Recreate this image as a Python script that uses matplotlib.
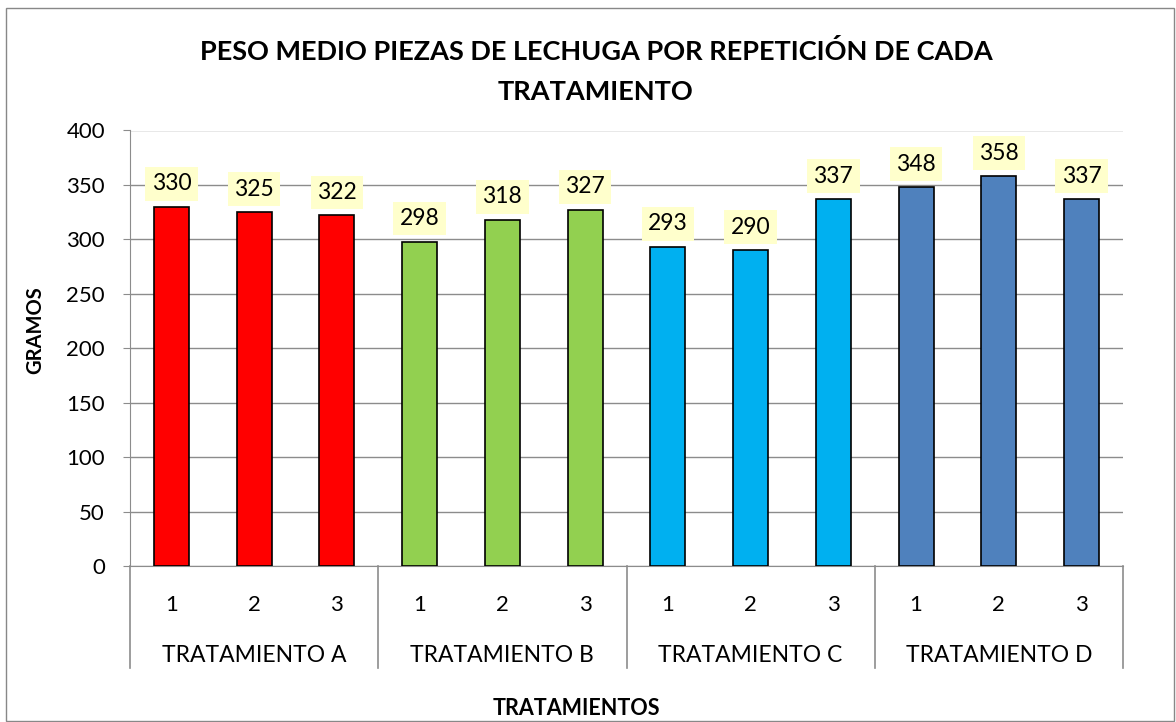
import matplotlib
matplotlib.use("Agg")
import matplotlib.pyplot as plt
from matplotlib.patches import Rectangle

plt.rcParams['font.family'] = ['Lato', 'DejaVu Sans']

groups = ["TRATAMIENTO A", "TRATAMIENTO B", "TRATAMIENTO C", "TRATAMIENTO D"]
reps = ["1", "2", "3"]
values_a = [330, 325, 322]
values_b = [298, 318, 327]
values_c = [293, 290, 337]
values_d = [348, 358, 337]
colors = ["#FF0000", "#92D050", "#00B0F0", "#4F81BD"]

series = [values_a, values_b, values_c, values_d]

W, H = 1176, 722
fig = plt.figure(figsize=(W / 100, H / 100), dpi=100)
fig.patches.append(Rectangle((6 / W, 0.6 / H), 1168 / W, 713 / H, transform=fig.transFigure,
                             fill=False, edgecolor="#888888", linewidth=1.0))
ax = fig.add_axes([130 / W, (H - 566) / H, 993 / W, 435.5 / H])

x = 0
positions = []
for gi, vals in enumerate(series):
    for ri, v in enumerate(vals):
        ax.bar(x, v, width=0.42, color=colors[gi], edgecolor="black", linewidth=1.2, zorder=3)
        ax.annotate(str(v), (x, v), xytext=(0, 9), textcoords="offset points",
                    ha="center", va="bottom", fontsize=16.5, zorder=4,
                    bbox=dict(boxstyle="square,pad=0.28", facecolor="#FFFFCC", edgecolor="none"))
        positions.append(x)
        x += 1

ax.set_xlim(-0.5, len(positions) - 0.5)
ax.set_ylim(0, 400)
ax.set_yticks(range(0, 401, 50))
ax.yaxis.grid(True, color="#8C8C8C", linewidth=1.0, zorder=0)
ax.set_axisbelow(True)
for s in ["top", "right"]:
    ax.spines[s].set_visible(False)
ax.spines["left"].set_color("#8C8C8C")
ax.spines["bottom"].set_color("#8C8C8C")
ax.tick_params(axis="y", length=5, color="#8C8C8C", labelsize=16, pad=13, direction="out")
ax.tick_params(axis="x", length=0, labelsize=16, pad=21)
ax.set_xticks(positions)
ax.set_xticklabels(reps * len(groups))

# group labels & separators
trans = ax.get_xaxis_transform()
for gi, g in enumerate(groups):
    center = gi * 3 + 1
    ax.text(center, -(662 - 566) / 435.5, g, transform=trans, ha="center", va="baseline", fontsize=16.5)
for b in range(len(groups) + 1):
    xb = b * 3 - 0.5
    ax.plot([xb, xb], [0, -(668 - 566) / 435.5], transform=trans, color="#8C8C8C",
            linewidth=1.2, clip_on=False)

fig.text(596 / W, 1 - 60 / H, "PESO MEDIO PIEZAS DE LECHUGA POR REPETICIÓN DE CADA",
         ha="center", va="baseline", fontsize=19.5, fontweight="bold")
fig.text(595 / W, 1 - 100 / H, "TRATAMIENTO",
         ha="center", va="baseline", fontsize=19.5, fontweight="bold")
fig.text(35 / W, 1 - 330 / H, "GRAMOS", rotation=90, ha="center", va="center",
         fontsize=14.5, fontweight="bold")
fig.text(576 / W, 1 - 715 / H, "TRATAMIENTOS", ha="center", va="baseline",
         fontsize=15.5, fontweight="bold")

fig.savefig("out.png", dpi=100)
